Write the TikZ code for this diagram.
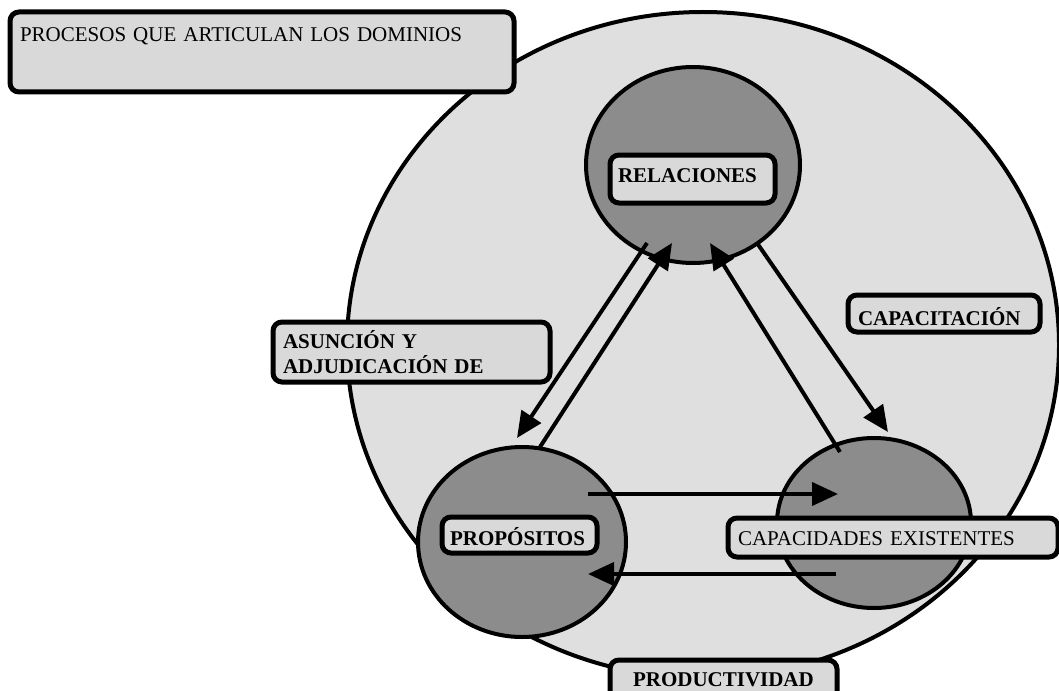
\documentclass[tikz,border=0pt]{standalone}
\usepackage{fontspec}
\setmainfont{Liberation Serif}
\usetikzlibrary{shapes.geometric,arrows.meta,calc}
\definecolor{fieldgray}{HTML}{DFDFDF}
\definecolor{boxgray}{HTML}{D9D9D9}
\definecolor{circgray}{HTML}{8C8C8C}

\begin{document}
\begin{tikzpicture}[x=1pt,y=-1pt,
  field/.style={ellipse, draw, line width=4pt, fill=fieldgray, inner sep=0pt, outer sep=0pt},
  domaincirc/.style={ellipse, draw, line width=4pt, fill=circgray, inner sep=0pt, outer sep=0pt},
  labelbox/.style={draw, line width=5pt, rounded corners=9pt, fill=boxgray,
    inner ysep=0pt, outer sep=0pt, anchor=north west, align=left,
    font=\fontsize{21}{25}\selectfont},
  boldbox/.style={labelbox, font=\fontsize{21}{25}\selectfont\bfseries},
  flow/.style={line width=4pt, -{Triangle[length=26pt,width=23pt]}}
]
\useasboundingbox (0,0) rectangle (1059,690);

% outer field of the three domains
\node[field, minimum width=712pt, minimum height=666pt] (field) at (703,345) {};

% title and process labels lying on the field
\node[labelbox, inner xsep=10pt, text width=484pt, text height=30pt, text depth=50pt]
  (title) at (10,12) {PROCESOS QUE ARTICULAN LOS DOMINIOS};
\node[boldbox, inner xsep=10pt, text width=257pt, text height=26pt, text depth=34pt]
  (asuncion) at (273,322) {ASUNCIÓN Y\\ADJUDICACIÓN DE};
\node[boldbox, inner xsep=10pt, text width=172pt, text height=30pt, text depth=7pt]
  (capacitacion) at (848,295) {CAPACITACIÓN};
\node[boldbox, inner xsep=23pt, text width=181pt, text height=26pt, text depth=24pt]
  (productividad) at (610,660) {PRODUCTIVIDAD};

% the three domains
\node[domaincirc, minimum width=214pt, minimum height=196pt] (rel) at (693,165) {};
\node[domaincirc, minimum width=208pt, minimum height=190pt] (prop) at (522,542) {};
\node[domaincirc, minimum width=194pt, minimum height=170pt] (cap) at (874,523) {};

% flows between the domains
\draw[flow] ($(rel)+(-46,78)$) -- ($(prop)+(-5,-104)$);
\draw[flow] ($(prop)+(18,-95)$) -- ($(rel)+(-21,78)$);
\draw[flow] ($(cap)+(-34,-71)$) -- ($(rel)+(17,78)$);
\draw[flow] ($(rel)+(64,78)$) -- ($(cap)+(14,-91)$);
\draw[flow] ($(prop)+(66,-48)$) -- ($(cap)+(-36,-29)$);
\draw[flow] ($(cap)+(-38,51)$) -- ($(prop)+(66,32)$);

% domain names
\node[boldbox, inner xsep=8pt, text width=149pt, text height=27pt, text depth=21pt]
  (relname) at (610,155) {RELACIONES};
\node[boldbox, inner xsep=8pt, text width=139pt, text height=28pt, text depth=8pt]
  (propname) at (442,517) {PROPÓSITOS};
\node[labelbox, inner xsep=10pt, text width=310pt, text height=27pt, text depth=12pt]
  (capname) at (728,518) {CAPACIDADES EXISTENTES};
\end{tikzpicture}
\end{document}
